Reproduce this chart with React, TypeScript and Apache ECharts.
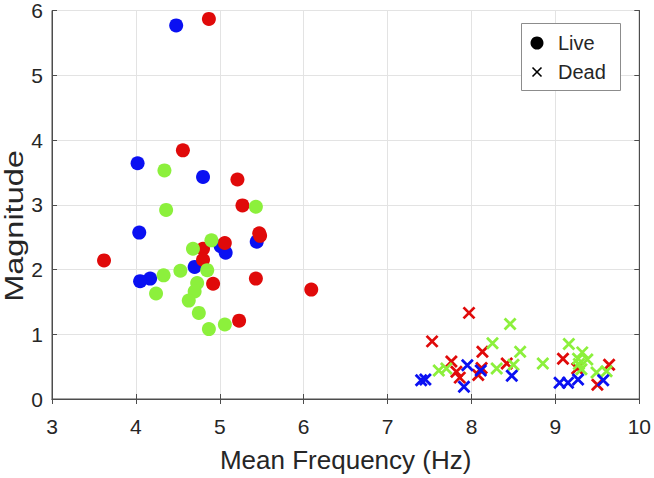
import React, { useEffect, useRef } from "react";
import * as echarts from "echarts";

// Live (circles) — [mean frequency Hz, magnitude]
const liveBlue: number[][] = [
  [4.48, 5.77], [4.02, 3.64], [4.80, 3.43], [4.04, 2.57], [5.44, 2.43],
  [5.01, 2.36], [5.07, 2.26], [4.70, 2.04], [4.17, 1.86], [4.05, 1.82],
];
const liveRed: number[][] = [
  [4.87, 5.87], [4.56, 3.84], [5.21, 3.39], [5.27, 2.99], [5.47, 2.56],
  [5.48, 2.52], [5.06, 2.41], [4.80, 2.32], [4.80, 2.15], [3.62, 2.14],
  [4.92, 1.78], [5.43, 1.86], [6.09, 1.69], [5.23, 1.21],
];
const liveGreen: number[][] = [
  [4.34, 3.53], [5.43, 2.97], [4.36, 2.92], [4.90, 2.45], [4.68, 2.32],
  [4.85, 1.99], [4.53, 1.98], [4.33, 1.91], [4.73, 1.79], [4.70, 1.66],
  [4.24, 1.63], [4.63, 1.52], [4.75, 1.33], [5.06, 1.15], [4.87, 1.08],
];
// Dead (crosses)
const deadRed: number[][] = [
  [7.97, 1.33], [7.53, 0.89], [8.13, 0.73], [9.09, 0.62], [7.76, 0.58],
  [9.64, 0.53], [8.42, 0.55], [9.26, 0.47], [7.82, 0.42], [8.12, 0.48],
  [8.08, 0.37], [7.86, 0.33], [9.50, 0.22],
];
const deadGreen: number[][] = [
  [8.46, 1.16], [8.25, 0.86], [9.16, 0.85], [8.58, 0.73], [9.32, 0.72],
  [9.27, 0.62], [9.38, 0.61], [8.85, 0.55], [8.50, 0.53], [9.28, 0.54],
  [9.31, 0.46], [7.61, 0.44], [7.70, 0.47], [8.30, 0.47], [9.49, 0.41],
  [9.61, 0.43],
];
const deadBlue: number[][] = [
  [7.95, 0.52], [8.11, 0.44], [8.48, 0.36], [7.40, 0.29], [7.45, 0.30],
  [7.91, 0.19], [9.05, 0.25], [9.15, 0.25], [9.27, 0.30], [9.57, 0.29],
];

const legendLabels = ["Live", "Dead"];
const xTitle = "Mean Frequency (Hz)";
const yTitle = "Magnitude";

const BLUE = "#0a10f2";
const RED = "#e00a0a";
const GREEN = "#8cf03c";
const CROSS = "path://M0,0L10,10M10,0L0,10";
const FONT = "Liberation Sans";
const TXT = "#262626";

export default function App() {
  const ref = useRef<HTMLDivElement>(null);
  useEffect(() => {
    if (!ref.current) return;
    const chart = echarts.init(ref.current, null, { renderer: "svg" });
    const live = (name: string, data: number[][], color: string) => ({
      type: "scatter", name, data, symbol: "circle", symbolSize: 14,
      itemStyle: { color, opacity: 1 }, z: 3,
    });
    const dead = (name: string, data: number[][], color: string) => ({
      type: "scatter", name, data, symbol: CROSS, symbolSize: 11,
      itemStyle: { color: "none", borderColor: color, borderWidth: 2.8, opacity: 1 }, z: 3,
    });
    const axisCommon = {
      axisLine: { show: true, lineStyle: { color: "#4d4d4d", width: 1 } },
      axisTick: { show: true, inside: true, length: 5, lineStyle: { color: "#4d4d4d" } },
    };
    chart.setOption({
      animation: false,
      backgroundColor: "#ffffff",
      grid: { left: 52, right: 14, top: 9, bottom: 72, show: true, borderColor: "#4d4d4d", borderWidth: 1, backgroundColor: "transparent" },
      xAxis: [
        {
          type: "value", min: 3, max: 10, interval: 1, position: "bottom",
          ...axisCommon,
          axisLabel: { fontFamily: FONT, fontSize: 21, color: TXT, margin: 17 },
          splitLine: { show: true, lineStyle: { color: "#e3e3e3" } },
          name: xTitle, nameLocation: "middle", nameGap: 48,
          nameTextStyle: { fontFamily: FONT, fontSize: 26, color: TXT },
        },
        {
          type: "value", min: 3, max: 10, interval: 1, position: "top",
          ...axisCommon, axisLabel: { show: false }, splitLine: { show: false },
        },
      ],
      yAxis: [
        {
          type: "value", min: 0, max: 6, interval: 1, position: "left",
          ...axisCommon,
          axisLabel: { fontFamily: FONT, fontSize: 21, color: TXT, margin: 9 },
          splitLine: { show: true, lineStyle: { color: "#e3e3e3" } },
        },
        {
          type: "value", min: 0, max: 6, interval: 1, position: "right",
          ...axisCommon, axisLabel: { show: false }, splitLine: { show: false },
        },
      ],
      series: [
        live("Live blue", liveBlue, BLUE),
        live("Live red", liveRed, RED),
        live("Live green", liveGreen, GREEN),
        dead("Dead red", deadRed, RED),
        dead("Dead green", deadGreen, GREEN),
        dead("Dead blue", deadBlue, BLUE),
      ],
      graphic: [
        {
          type: "text", x: 14, y: 226, rotation: Math.PI / 2, scaleX: 1.25,
          style: { text: yTitle, font: `26px '${FONT}'`, fill: TXT, align: "center", verticalAlign: "middle" },
        },
        { type: "rect", left: 521, top: 23, shape: { width: 99, height: 67 }, style: { fill: "#ffffff", stroke: "#8c8c8c", lineWidth: 1 }, z: 10 },
        { type: "circle", shape: { cx: 537, cy: 43, r: 6.5 }, style: { fill: "#000000" }, z: 11 },
        { type: "line", shape: { x1: 532.5, y1: 67.5, x2: 541.5, y2: 76.5 }, style: { stroke: "#000", lineWidth: 1.6 }, z: 11 },
        { type: "line", shape: { x1: 541.5, y1: 67.5, x2: 532.5, y2: 76.5 }, style: { stroke: "#000", lineWidth: 1.6 }, z: 11 },
        { type: "text", x: 558, y: 43, style: { text: legendLabels[0], font: `20px '${FONT}'`, fill: TXT, verticalAlign: "middle" }, z: 11 },
        { type: "text", x: 558, y: 72, style: { text: legendLabels[1], font: `20px '${FONT}'`, fill: TXT, verticalAlign: "middle" }, z: 11 },
      ],
    });
    return () => chart.dispose();
  }, []);
  return <div ref={ref} style={{ width: 654, height: 478, position: "absolute", left: 0, top: 0 }} />;
}
